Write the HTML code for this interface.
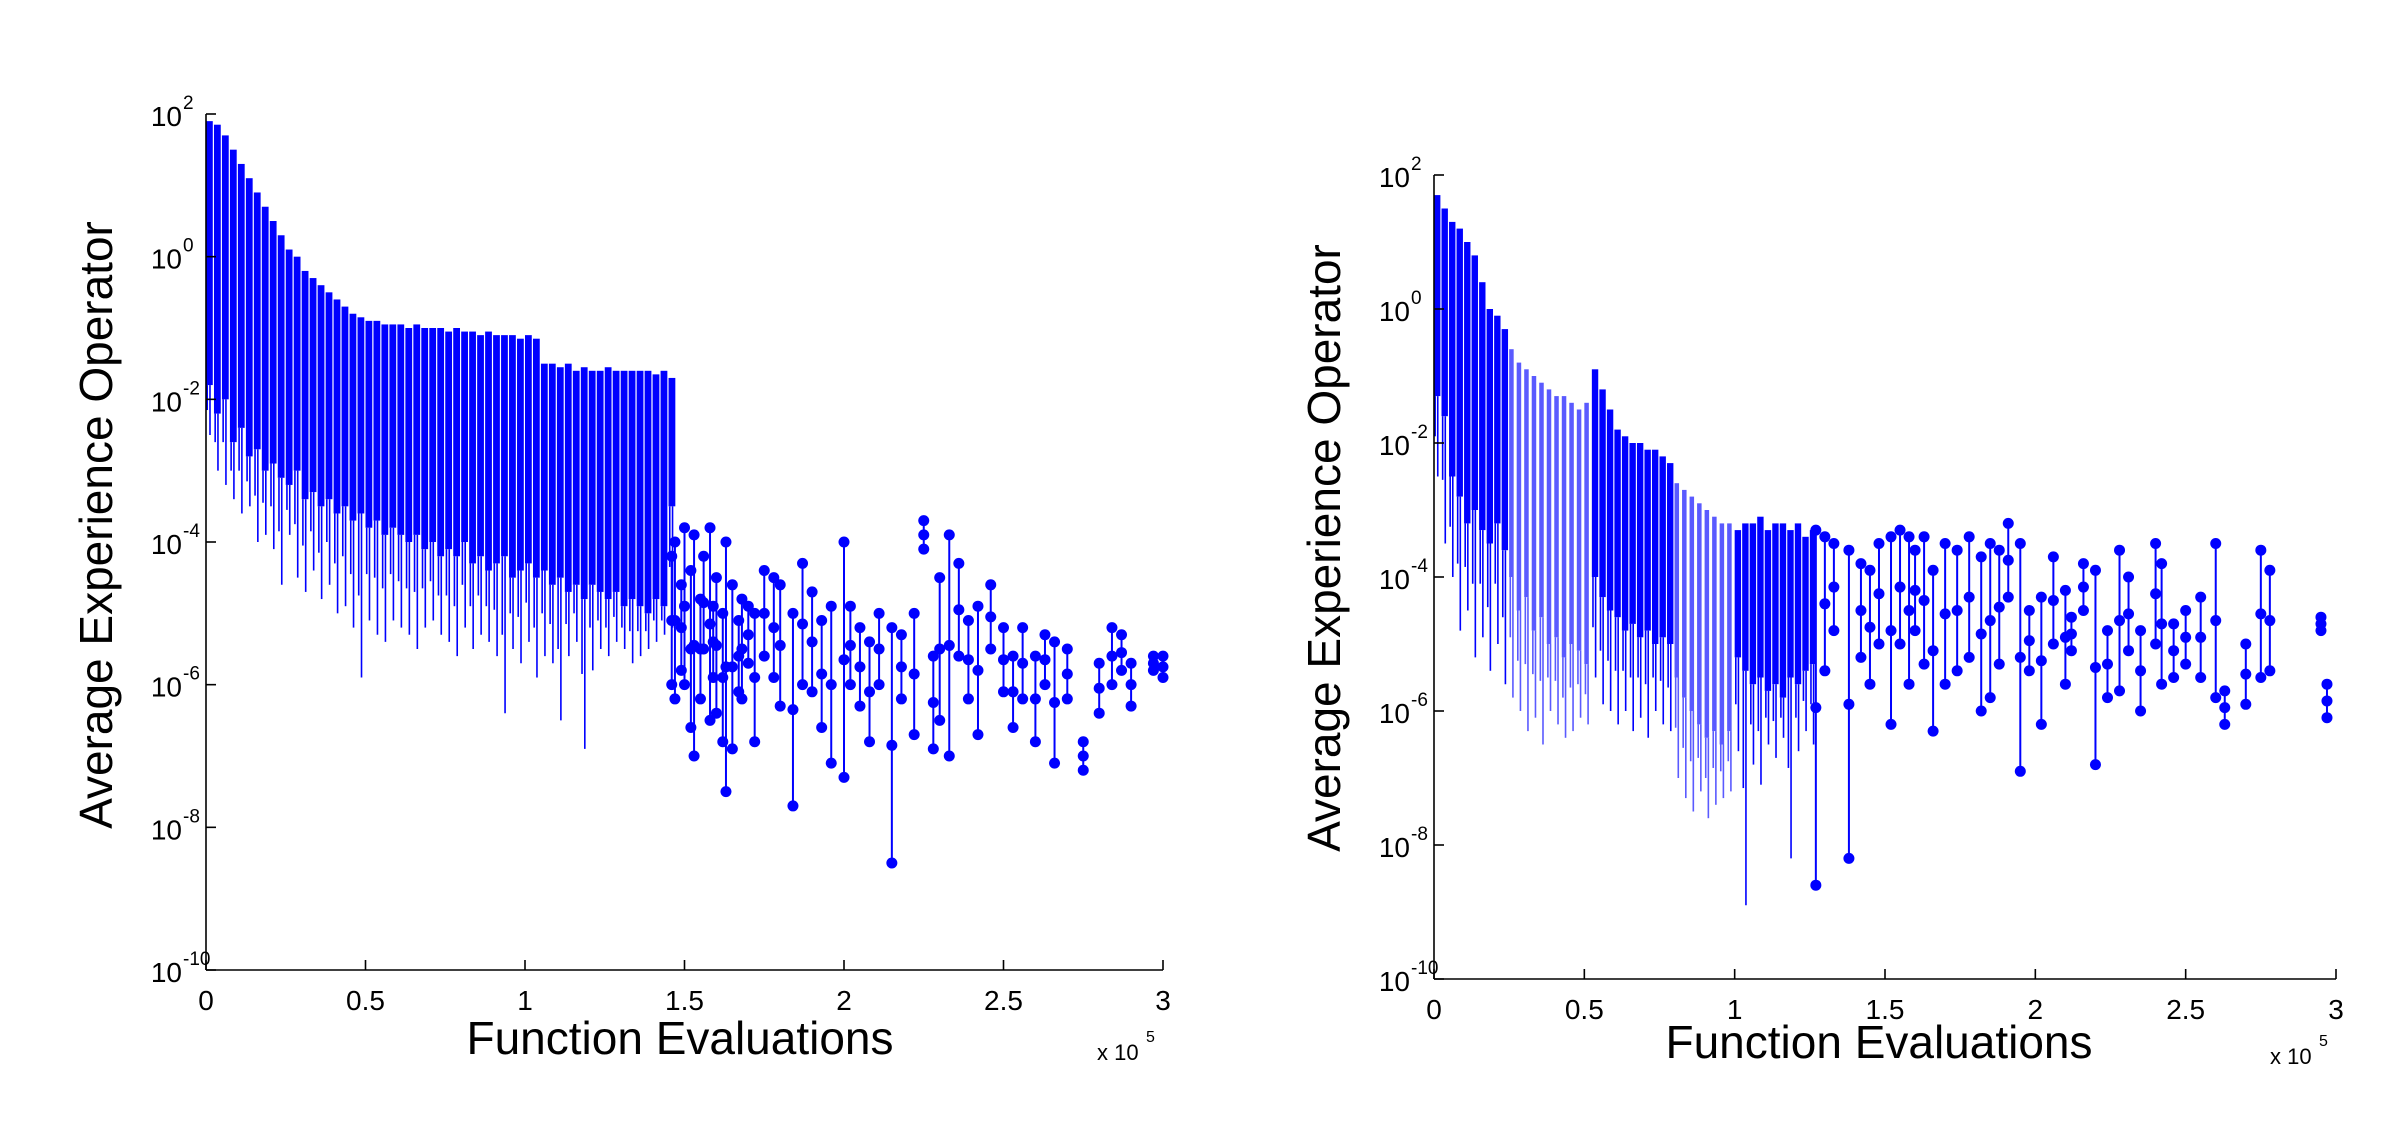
<!DOCTYPE html>
<html><head><meta charset="utf-8"><style>
html,body{margin:0;padding:0;background:#fff;}
svg{display:block;font-family:"Liberation Sans",sans-serif;}
</style></head><body>
<svg id="fig" width="2406" height="1130" viewBox="0 0 2406 1130" xmlns="http://www.w3.org/2000/svg">
<g id="left"></g>
<g id="right"></g>
</svg>
<script>
// x tick values (x 10^5) and y tick exponents
const xTicks = [0, 0.5, 1, 1.5, 2, 2.5, 3];
const xTickLabels = ["0", "0.5", "1", "1.5", "2", "2.5", "3"];
const yTickExps = [2, 0, -2, -4, -6, -8, -10];
const denseStep = 0.025;

// LEFT chart dense band (log10 values), x = index*denseStep
const hiL = [1.9,1.85,1.7,1.5,1.3,1.1,0.9,0.7,0.5,0.3,
0.1,0.0,-0.2,-0.3,-0.4,-0.5,-0.6,-0.7,-0.8,-0.85,
-0.9,-0.9,-0.95,-0.95,-0.95,-1.0,-0.95,-1.0,-1.0,-1.0,
-1.05,-1.0,-1.05,-1.05,-1.1,-1.05,-1.1,-1.1,-1.1,-1.15,
-1.1,-1.15,-1.5,-1.5,-1.55,-1.5,-1.6,-1.55,-1.6,-1.6,
-1.55,-1.6,-1.6,-1.6,-1.6,-1.6,-1.65,-1.6,-1.7];
const loL = [-1.8,-2.2,-2.0,-2.6,-2.4,-2.8,-2.7,-3.0,-2.9,-3.1,
-3.2,-3.0,-3.4,-3.3,-3.5,-3.4,-3.6,-3.5,-3.7,-3.6,
-3.8,-3.7,-3.9,-3.8,-3.9,-4.0,-3.9,-4.1,-4.0,-4.2,
-4.1,-4.2,-4.0,-4.3,-4.2,-4.4,-4.3,-4.2,-4.5,-4.4,
-4.3,-4.5,-4.4,-4.6,-4.5,-4.7,-4.6,-4.8,-4.6,-4.7,
-4.8,-4.7,-4.9,-4.8,-4.9,-5.0,-4.8,-4.9,-3.5];
const spikeL = [-2.5,-3.0,-3.2,-3.4,-3.6,-3.5,-4.0,-3.9,-4.1,-4.6,
-3.9,-4.5,-4.7,-4.4,-4.8,-4.6,-5.0,-4.9,-5.2,-5.9,
-5.1,-5.3,-5.4,-5.1,-5.2,-5.3,-5.5,-5.2,-5.1,-5.3,
-5.4,-5.6,-5.2,-5.5,-5.3,-5.4,-5.6,-6.4,-5.5,-5.7,
-5.4,-5.9,-5.6,-5.7,-6.5,-5.6,-5.4,-6.9,-5.8,-5.5,
-5.6,-5.4,-5.5,-5.7,-5.6,-5.5,-5.4,-5.3,-5.2];
// LEFT scatter segments
const sxL = [1.46,1.47,1.49,1.5,1.52,1.53,1.55,1.56,1.58,1.59,1.6,1.62,1.63,1.65,1.67,1.68,1.7,1.72,1.75,1.78,1.8,1.84,1.87,1.9,1.93,1.96,2.0,2.02,2.05,2.08,2.11,2.15,2.18,2.22,2.25,2.28,2.3,2.33,2.36,2.39,2.42,2.46,2.5,2.53,2.56,2.6,2.63,2.66,2.7,2.75,2.8,2.84,2.87,2.9,2.97,3.0];
const stL = [-4.2,-4.0,-4.6,-3.8,-4.4,-3.9,-4.8,-4.2,-3.8,-4.9,-4.5,-5.0,-4.0,-4.6,-5.1,-4.8,-4.9,-5.0,-4.4,-4.5,-4.6,-5.0,-4.3,-4.7,-5.1,-4.9,-4.0,-4.9,-5.2,-5.4,-5.0,-5.2,-5.3,-5.0,-3.7,-5.6,-4.5,-3.9,-4.3,-5.1,-4.9,-4.6,-5.2,-5.6,-5.2,-5.6,-5.3,-5.4,-5.5,-6.8,-5.7,-5.2,-5.3,-5.7,-5.6,-5.6];
const sbL = [-6.0,-6.2,-5.8,-6.0,-6.6,-7.0,-6.2,-5.5,-6.5,-5.9,-6.4,-6.8,-7.5,-6.9,-6.1,-6.2,-5.7,-6.8,-5.6,-5.9,-6.3,-7.7,-6.0,-6.1,-6.6,-7.1,-7.3,-6.0,-6.3,-6.8,-6.0,-8.5,-6.2,-6.7,-4.1,-6.9,-6.5,-7.0,-5.6,-6.2,-6.7,-5.5,-6.1,-6.6,-6.2,-6.8,-6.0,-7.1,-6.2,-7.2,-6.4,-6.0,-5.8,-6.3,-5.8,-5.9];

// RIGHT chart dense band
const hiR = [1.7,1.5,1.3,1.2,1.0,0.8,0.4,0.0,-0.1,-0.3,
-0.6,-0.8,-0.9,-1.0,-1.1,-1.2,-1.3,-1.3,-1.4,-1.5,
-1.4,-0.9,-1.2,-1.5,-1.8,-1.9,-2.0,-2.0,-2.1,-2.1,
-2.2,-2.3,-2.6,-2.7,-2.8,-2.9,-3.0,-3.1,-3.2,-3.2,
-3.3,-3.2,-3.2,-3.1,-3.3,-3.2,-3.2,-3.3,-3.2,-3.4,-3.3];
const loR = [-1.3,-1.6,-2.5,-2.8,-3.2,-3.0,-3.3,-3.5,-3.2,-3.6,
-4.0,-4.5,-4.3,-4.8,-4.6,-5.0,-4.9,-5.2,-5.0,-5.1,
-5.3,-4.0,-4.3,-4.5,-4.6,-4.8,-4.7,-4.9,-4.8,-5.0,
-4.9,-5.0,-5.5,-5.8,-6.0,-6.2,-6.4,-6.3,-6.5,-6.3,
-5.2,-5.4,-5.6,-5.5,-5.7,-5.6,-5.8,-5.5,-5.6,-5.4,-5.3];
const spikeR = [-2.5,-3.5,-4.0,-4.8,-4.5,-5.2,-4.9,-5.4,-5.0,-5.6,
-5.8,-6.0,-6.3,-6.1,-6.5,-6.0,-6.2,-6.4,-6.3,-6.1,
-6.2,-5.5,-5.9,-6.0,-6.2,-6.0,-6.3,-6.1,-6.4,-6.0,
-6.2,-6.3,-7.0,-7.3,-7.5,-7.2,-7.6,-7.4,-7.3,-7.2,
-6.6,-8.9,-6.8,-7.1,-6.5,-6.7,-6.4,-8.2,-6.6,-6.3,-6.5];
// RIGHT scatter segments
const sxR = [1.27,1.3,1.33,1.38,1.42,1.45,1.48,1.52,1.55,1.58,1.6,1.63,1.66,1.7,1.74,1.78,1.82,1.85,1.88,1.91,1.95,1.98,2.02,2.06,2.1,2.12,2.16,2.2,2.24,2.28,2.31,2.35,2.4,2.42,2.46,2.5,2.55,2.6,2.63,2.7,2.75,2.78,2.95,2.97];
const stR = [-3.3,-3.4,-3.5,-3.6,-3.8,-3.9,-3.5,-3.4,-3.3,-3.4,-3.6,-3.4,-3.9,-3.5,-3.6,-3.4,-3.7,-3.5,-3.6,-3.2,-3.5,-4.5,-4.3,-3.7,-4.2,-4.6,-3.8,-3.9,-4.8,-3.6,-4.0,-4.8,-3.5,-3.8,-4.7,-4.5,-4.3,-3.5,-5.7,-5.0,-3.6,-3.9,-4.6,-5.6];
const sbR = [-8.6,-5.4,-4.8,-8.2,-5.2,-5.6,-5.0,-6.2,-5.0,-5.6,-4.8,-5.3,-6.3,-5.6,-5.4,-5.2,-6.0,-5.8,-5.3,-4.3,-6.9,-5.4,-6.2,-5.0,-5.6,-5.1,-4.5,-6.8,-5.8,-5.7,-5.1,-6.0,-5.0,-5.6,-5.5,-5.3,-5.5,-5.8,-6.2,-5.9,-5.5,-5.4,-4.8,-6.1];

const NS = "http://www.w3.org/2000/svg";
function mk(parent, tag, attrs){const e=document.createElementNS(NS,tag);for(const k in attrs)e.setAttribute(k,attrs[k]);parent.appendChild(e);return e;}

function drawChart(g, cfg, hi, lo, spike, sx, st, sb){
  const X = v => cfg.x0 + v/3*(cfg.x1-cfg.x0);
  const Y = e => cfg.yTop + (2-e)/12*(cfg.yBot-cfg.yTop);
  const pxStep = X(denseStep)-X(0);
  const bands = mk(g,'g',{});
  
  
  const n = Math.min(hi.length, lo.length, spike.length);
  for(let i=0;i<n;i++){
    const xv=i*denseStep;
    const light = cfg.light && cfg.light.some(r=>xv>=r[0]&&xv<r[1]);
    const col = light ? '#5a5aff' : '#0000ff';
    const r = mk(bands,'rect',{x:X(xv), y:Y(hi[i]), width:pxStep*(light?0.6:0.85), height:Math.max(1,Y(lo[i])-Y(hi[i])), fill:col});
    
    
    const l = mk(bands,'line',{x1:X(xv)+pxStep*0.5, x2:X(xv)+pxStep*0.5, y1:Y(lo[i]), y2:Y(spike[i]), stroke:col, 'stroke-width':1.6});
    
    
    const l2 = mk(bands,'line',{x1:X(xv)+pxStep*0.15, x2:X(xv)+pxStep*0.15, y1:Y(lo[i]), y2:Y((lo[i]+spike[i])/2), stroke:col, 'stroke-width':1.6});
    
    
  }
  const sc = mk(g,'g',{});
  
  
  const m = Math.min(sx.length, st.length, sb.length);
  for(let i=0;i<m;i++){
    const x=X(sx[i]);
    const l = mk(sc,'line',{x1:x,x2:x,y1:Y(st[i]),y2:Y(sb[i]),stroke:'#0000ff','stroke-width':2});
    
    
    for(const e of [st[i], sb[i], (st[i]+sb[i])/2]){
      const c = mk(sc,'circle',{cx:x, cy:Y(e), r:5.5, fill:'#0000ff'});
      
      
    }
  }
  // axes
  const ax = mk(g,'g',{stroke:'#000','stroke-width':1.6,fill:'none'});
  
  
  mk(ax,'line',{x1:cfg.x0,x2:cfg.x0,y1:cfg.yTop,y2:cfg.yBot});
  mk(ax,'line',{x1:cfg.x0,x2:cfg.x1,y1:cfg.yBot,y2:cfg.yBot});
  xTicks.forEach((t,i)=>{
    mk(ax,'line',{x1:X(t),x2:X(t),y1:cfg.yBot,y2:cfg.yBot-10});
    const tx = mk(g,'text',{x:X(t),y:cfg.yBot+40,'font-size':28,'text-anchor':'middle',fill:'#000'});
    tx.textContent = xTickLabels[i];
    
    
  });
  yTickExps.forEach(e=>{
    mk(ax,'line',{x1:cfg.x0,x2:cfg.x0+10,y1:Y(e),y2:Y(e)});
    const tx = mk(g,'text',{x:cfg.x0-24,y:Y(e)+12,'font-size':28,'text-anchor':'end',fill:'#000'});
    tx.textContent='10';
    
    
    const sp = mk(g,'text',{x:cfg.x0-23,y:Y(e)-5,'font-size':19,'text-anchor':'start',fill:'#000'});
    sp.textContent=String(e);
    
    
  });
  const yt = mk(g,'text',{x:0,y:0,'font-size':46,'text-anchor':'middle',fill:'#000',transform:`translate(${cfg.ytx},${cfg.yty}) rotate(-90)`});
  yt.textContent='Average Experience Operator';
  
  
  const xt = mk(g,'text',{x:cfg.xtx,y:cfg.xty,'font-size':46,'text-anchor':'middle',fill:'#000'});
  xt.textContent='Function Evaluations';
  
  
  const mul = mk(g,'text',{x:cfg.x1-66,y:cfg.xty+6,'font-size':22,fill:'#000'});
  mul.textContent='x 10';
  
  
  const mulE = mk(g,'text',{x:cfg.x1-17,y:cfg.xty-12,'font-size':16,fill:'#000'});
  mulE.textContent='5';
  
  
}

drawChart(document.getElementById('left'),
  {x0:206,x1:1163,yTop:114,yBot:970,ytx:112,yty:525,xtx:680,xty:1054},
  hiL, loL, spikeL, sxL, stL, sbL);
drawChart(document.getElementById('right'),
  {x0:1434,x1:2336,yTop:175,yBot:979,ytx:1340,yty:548,xtx:1879,xty:1058,light:[[0.25,0.52],[0.78,1.0]]},
  hiR, loR, spikeR, sxR, stR, sbR);
</script>
</body></html>
